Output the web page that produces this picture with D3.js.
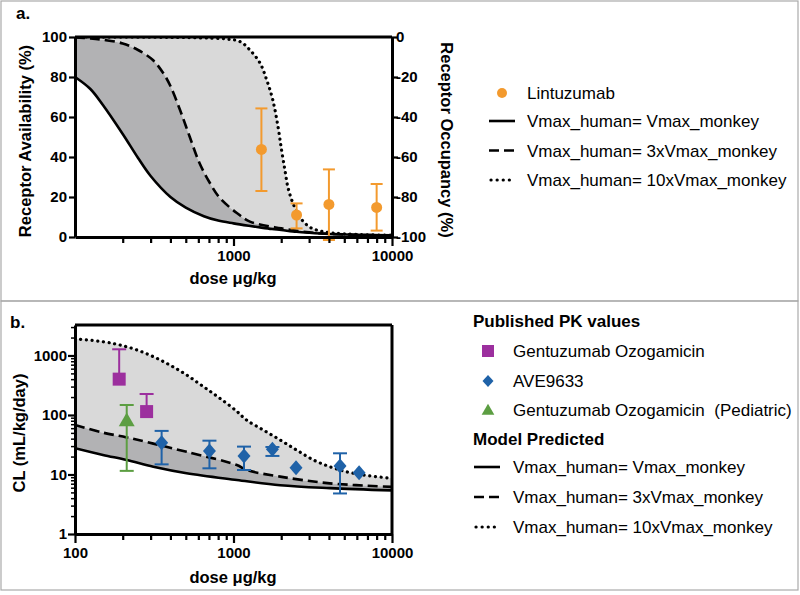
<!DOCTYPE html>
<html><head><meta charset="utf-8">
<script src="https://cdn.jsdelivr.net/npm/d3@7/dist/d3.min.js"></script>
<style>body{margin:0;background:#fff}svg{display:block;font-family:"Liberation Sans",Arial,sans-serif}</style>
</head><body><svg id="c" width="800" height="595"></svg>
<script>
// ---------- Panel a data ----------
const doseA_solid = [100,125,150,200,250,300,400,500,650,800,1000,1250,1500,1750,2000,2500,3000,4000,6000,10000];
const ra_solid    = [80,74,66,51.5,39.5,30.5,20,14.7,10.4,8.2,6.8,5.6,4.7,4.0,3.5,2.6,2.1,1.5,1.1,0.8];
const doseA_dash  = [100,125,150,200,250,310,360,400,460,530,610,710,820,1050,1270,2000,3000,4000,6000,10000];
const ra_dash     = [99.8,99.3,98.6,96.8,93.5,88.5,82,75.5,63.5,50,37,27,19.5,12,7.7,4.3,2.3,1.6,1.1,0.8];
const doseA_dot   = [100,300,600,900,1100,1270,1470,1620,1770,1910,2010,2110,2210,2370,2620,3020,3670,5200,10000];
const ra_dot      = [100,99.9,99.6,99,97.7,93.5,87,78.5,68.5,55,43.5,33.5,24.5,17,10,5,2.7,1.5,0.9];
const lintDose = [1500,2500,4000,8000];
const lintVal  = [43.8,11,16.3,14.8];
const lintLo   = [23,4.3,-1.5,3.2];
const lintHi   = [64.3,16.8,33.8,26.5];
const yTicksA  = [0,20,40,60,80,100];
const yTicksA2 = ["0","-20","-40","-60","-80","-100"];
const xTicksA  = [1000,10000];

// ---------- Panel b data ----------
const doseB_solid = [100,150,212,312,506,1050,1970,4050,10000];
const cl_solid    = [27.6,21.3,17.5,13.5,10.5,8.1,6.6,5.9,5.4];
const doseB_dash  = [100,150,212,312,506,1050,1210,1970,4050,10000];
const cl_dash     = [68,50.5,42,33,24,14.4,11.9,9.2,7.1,6.2];
const doseB_dot   = [100,151,192,245,312,397,506,645,822,1050,1210,1540,1970,2500,3200,4050,5170,6600,10000];
const cl_dot      = [1900,1700,1500,1240,955,690,470,300,190,115,82,56,38,25.8,17.5,13.5,11.1,9.8,8.6];
const gemDose = [190,283];
const gemVal  = [400,114];
const gemHi   = [1270,225];
const pedDose = [212];
const pedVal  = [77];
const pedLo   = [11.5];
const pedHi   = [147];
const aveDose = [352,705,1165,1760,2480,4700,6200];
const aveVal  = [34,24.8,20.5,26.5,13,13.9,10.7];
const aveLo   = [14.8,12.7,11.9,20.5,null,4.8,null];
const aveHi   = [54,37,29.4,29,null,22.7,null];
const xTicksB = [100,1000,10000];
const yTicksB = [1,10,100,1000];

const ORANGE="#f39a2e", PURPLE="#9c2f9e", BLUE="#1f62a8", GREEN="#5c9e42";
const LIGHT="#d9d9d9", DARK="#b2b2b4";
const FT=15, FL=17, FG=16.5;

const svg = d3.select("#c");
svg.append("rect").attr("x",1).attr("y",1).attr("width",797).attr("height",300).attr("fill","none").attr("stroke","#aaa").attr("stroke-width",1.2);
svg.append("rect").attr("x",1).attr("y",301).attr("width",797).attr("height",289).attr("fill","none").attr("stroke","#aaa").attr("stroke-width",1.2);

const L=75, R=392;
function zipc(ds, vs){ return ds.map((d,i)=>[d,vs[i]]); }
function bandPath(top, bottom, line){
  const p1 = line(top);
  const p2 = line(bottom.slice().reverse());
  return p1 + "L" + p2.slice(1) + "Z";
}
const curve = d3.curveCatmullRom.alpha(0.5);
const DASH="10,5", DOT="0.1,5.6";
function drawCurves(g, line, s, d, t){
  g.append("path").attr("d", line(s)).attr("fill","none").attr("stroke","#000").attr("stroke-width",2.6);
  g.append("path").attr("d", line(d)).attr("fill","none").attr("stroke","#000").attr("stroke-width",2.6).attr("stroke-dasharray",DASH);
  g.append("path").attr("d", line(t)).attr("fill","none").attr("stroke","#000").attr("stroke-width",3.2).attr("stroke-dasharray",DOT).attr("stroke-linecap","round");
}
const styleAxis = g=>{
  g.select(".domain").attr("stroke-width",3);
  g.selectAll(".tick line").attr("stroke-width",2.2);
  g.selectAll("text").attr("font-size",FT).attr("font-weight","bold").attr("fill","#000").attr("font-family","'Liberation Sans',Arial,sans-serif");
};
const minorX = [100,200,300,400,500,600,700,800,900,1000,2000,3000,4000,5000,6000,7000,8000,9000,10000];

// ================= Panel a =================
const xa = d3.scaleLog().domain([100,10000]).range([L,R]);
const ya = d3.scaleLinear().domain([0,100]).range([237,37]);
const ya2 = d3.scaleLinear().domain([0,-100]).range([37,237]);
const ga = svg.append("g");
ga.append("defs").append("clipPath").attr("id","clipa").append("rect").attr("x",L).attr("y",37).attr("width",R-L).attr("height",200);

const lineA = d3.line().x(d=>xa(d[0])).y(d=>ya(d[1])).curve(curve);
const sA = zipc(doseA_solid, ra_solid), dA = zipc(doseA_dash, ra_dash), tA = zipc(doseA_dot, ra_dot);
const gca = ga.append("g").attr("clip-path","url(#clipa)");
gca.append("path").attr("d", bandPath(tA, dA, lineA)).attr("fill",LIGHT);
gca.append("path").attr("d", bandPath(dA, sA, lineA)).attr("fill",DARK);
drawCurves(gca, lineA, sA, dA, tA);

lintDose.forEach((d,i)=>{
  const x=xa(d);
  ga.append("line").attr("x1",x).attr("x2",x).attr("y1",ya(lintLo[i])).attr("y2",ya(lintHi[i])).attr("stroke",ORANGE).attr("stroke-width",2);
  [lintLo[i],lintHi[i]].forEach(v=>ga.append("line").attr("x1",x-6).attr("x2",x+6).attr("y1",ya(v)).attr("y2",ya(v)).attr("stroke",ORANGE).attr("stroke-width",2));
  ga.append("circle").attr("cx",x).attr("cy",ya(lintVal[i])).attr("r",5.5).attr("fill",ORANGE);
});

ga.append("line").attr("x1",L).attr("x2",R).attr("y1",37).attr("y2",37).attr("stroke","#000").attr("stroke-width",3);

const gxa = ga.append("g").attr("transform","translate(0,237)")
  .call(d3.axisBottom(xa).tickValues(minorX.filter(d=>d>100)).tickSize(6).tickSizeOuter(0).tickFormat(d=> xTicksA.includes(d)? d3.format("d")(d):""))
  .call(styleAxis);
gxa.selectAll(".tick").filter(d=>xTicksA.includes(d)).select("line").attr("y2",9);
gxa.selectAll("text").attr("y",13).attr("dy","0.72em");

ga.append("g").attr("transform",`translate(${L},0)`).call(d3.axisLeft(ya).tickValues(yTicksA).tickSize(6).tickSizeOuter(0).tickPadding(2)).call(styleAxis);
const gya2 = ga.append("g").attr("transform",`translate(${R},0)`).call(d3.axisRight(ya2).tickValues(yTicksA.map(v=>-v)).tickSize(6).tickSizeOuter(0).tickFormat((d,i)=>yTicksA2[i])).call(styleAxis);
gya2.selectAll("text").attr("x",4);

ga.append("text").attr("transform",`translate(31,141) rotate(-90)`).attr("text-anchor","middle").attr("font-size",FG).attr("font-weight","bold").text("Receptor Availability (%)");
ga.append("text").attr("transform",`translate(441,140) rotate(90)`).attr("text-anchor","middle").attr("font-size",FG).attr("font-weight","bold").text("Receptor Occupancy (%)");
ga.append("text").attr("x",233).attr("y",284).attr("text-anchor","middle").attr("font-size",FG).attr("font-weight","bold").text("dose μg/kg");
ga.append("text").attr("x",16).attr("y",19).attr("font-size",17).attr("font-weight","bold").text("a.");

const lgA = ga.append("g").attr("font-size",FL);
lgA.append("circle").attr("cx",502).attr("cy",93).attr("r",5).attr("fill",ORANGE);
lgA.append("text").attr("x",527).attr("y",99).text("Lintuzumab");
const lgLines = [["none","Vmax_human= Vmax_monkey"],[DASH,"Vmax_human= 3xVmax_monkey"],[DOT,"Vmax_human= 10xVmax_monkey"]];
function legLine(g, x1, x2, y, i){
  g.append("line").attr("x1",x1).attr("x2",x2).attr("y1",y).attr("y2",y).attr("stroke","#000")
   .attr("stroke-width",i===2?3.2:2.6).attr("stroke-dasharray",i===0?null:(i===1?"10,5":"0.1,6")).attr("stroke-linecap",i===2?"round":"butt");
}
lgLines.forEach((l,i)=>{
  const y = 121 + i*29.5;
  legLine(lgA, i===2?491:489, 515, y, i);
  lgA.append("text").attr("x",527).attr("y",y+6).text(l[1]);
});

// ================= Panel b =================
const xb = d3.scaleLog().domain([100,10000]).range([L,R]);
const yb = d3.scaleLog().domain([1,3250]).range([534,325]);
const gb = svg.append("g");
gb.append("defs").append("clipPath").attr("id","clipb").append("rect").attr("x",L).attr("y",325).attr("width",R-L).attr("height",209);
const lineB = d3.line().x(d=>xb(d[0])).y(d=>yb(d[1])).curve(curve);
const sB = zipc(doseB_solid, cl_solid), dB = zipc(doseB_dash, cl_dash), tB = zipc(doseB_dot, cl_dot);
const gcb = gb.append("g").attr("clip-path","url(#clipb)");
gcb.append("path").attr("d", bandPath(tB, dB, lineB)).attr("fill",LIGHT);
gcb.append("path").attr("d", bandPath(dB, sB, lineB)).attr("fill",DARK);
drawCurves(gcb, lineB, sB, dB, tB);

function errBar(g, x, lo, hi, col){
  g.append("line").attr("x1",x).attr("x2",x).attr("y1",yb(lo)).attr("y2",yb(hi)).attr("stroke",col).attr("stroke-width",2);
  [lo,hi].forEach(v=> g.append("line").attr("x1",x-7).attr("x2",x+7).attr("y1",yb(v)).attr("y2",yb(v)).attr("stroke",col).attr("stroke-width",2));
}
gemDose.forEach((d,i)=>{
  const x=xb(d), y=yb(gemVal[i]);
  gb.append("line").attr("x1",x).attr("x2",x).attr("y1",y).attr("y2",yb(gemHi[i])).attr("stroke",PURPLE).attr("stroke-width",2);
  gb.append("line").attr("x1",x-7).attr("x2",x+7).attr("y1",yb(gemHi[i])).attr("y2",yb(gemHi[i])).attr("stroke",PURPLE).attr("stroke-width",2);
  gb.append("rect").attr("x",x-6.5).attr("y",y-6.5).attr("width",13).attr("height",13).attr("fill",PURPLE);
});
pedDose.forEach((d,i)=>{
  const x=xb(d), y=yb(pedVal[i]);
  errBar(gb, x, pedLo[i], pedHi[i], GREEN);
  gb.append("path").attr("d",d3.symbol(d3.symbolTriangle,110)()).attr("transform",`translate(${x},${y})`).attr("fill",GREEN);
});
aveDose.forEach((d,i)=>{
  const x=xb(d), y=yb(aveVal[i]);
  if(aveLo[i]!=null) errBar(gb, x, aveLo[i], aveHi[i], BLUE);
  gb.append("path").attr("d","M0,-7.5L6.5,0L0,7.5L-6.5,0Z").attr("transform",`translate(${x},${y})`).attr("fill",BLUE);
});

gb.append("line").attr("x1",L).attr("x2",R).attr("y1",325).attr("y2",325).attr("stroke","#000").attr("stroke-width",3);
gb.append("line").attr("x1",R).attr("x2",R).attr("y1",325).attr("y2",534).attr("stroke","#000").attr("stroke-width",3);

const gxb = gb.append("g").attr("transform","translate(0,534)")
  .call(d3.axisBottom(xb).tickValues(minorX).tickSize(6).tickSizeOuter(0).tickFormat(d=> xTicksB.includes(d)? d3.format("d")(d):""))
  .call(styleAxis);
gxb.selectAll(".tick").filter(d=>xTicksB.includes(d)).select("line").attr("y2",9);
gxb.selectAll("text").attr("y",13).attr("dy","0.72em");

const minorY=[];
for(let e=0;e<4;e++) for(let k=1;k<10;k++){ const v=k*Math.pow(10,e); if(v<=3250) minorY.push(v); }
const gyb = gb.append("g").attr("transform",`translate(${L},0)`)
  .call(d3.axisLeft(yb).tickValues(minorY).tickSize(4).tickSizeOuter(0).tickPadding(4).tickFormat(d=> yTicksB.includes(d)? d3.format("d")(d):""))
  .call(styleAxis);
gyb.selectAll(".tick").filter(d=>yTicksB.includes(d)).select("line").attr("x2",-7);
gyb.selectAll(".tick").filter(d=>!yTicksB.includes(d)).select("line").attr("stroke-width",1.5);

gb.append("text").attr("transform",`translate(25,433) rotate(-90)`).attr("text-anchor","middle").attr("font-size",FG).attr("font-weight","bold").text("CL (mL/kg/day)");
gb.append("text").attr("x",233).attr("y",583).attr("text-anchor","middle").attr("font-size",FG).attr("font-weight","bold").text("dose μg/kg");
gb.append("text").attr("x",10).attr("y",328).attr("font-size",17).attr("font-weight","bold").text("b.");

const lgB = gb.append("g").attr("font-size",FL);
lgB.append("text").attr("x",473).attr("y",327).attr("font-weight","bold").text("Published PK values");
lgB.append("rect").attr("x",482).attr("y",345).attr("width",12).attr("height",12).attr("fill",PURPLE);
lgB.append("text").attr("x",513).attr("y",357).text("Gentuzumab Ozogamicin");
lgB.append("path").attr("d","M0,-6L5.5,0L0,6L-5.5,0Z").attr("transform","translate(488,381)").attr("fill",BLUE);
lgB.append("text").attr("x",513).attr("y",387).text("AVE9633");
lgB.append("path").attr("d",d3.symbol(d3.symbolTriangle,70)()).attr("transform","translate(488,411)").attr("fill",GREEN);
lgB.append("text").attr("x",513).attr("y",416).text("Gentuzumab Ozogamicin  (Pediatric)").attr("style","white-space:pre");
lgB.append("text").attr("x",473).attr("y",445).attr("font-weight","bold").text("Model Predicted");
lgLines.forEach((l,i)=>{
  const y = 467 + i*30;
  legLine(lgB, i===2?476:474, 500, y, i);
  lgB.append("text").attr("x",513).attr("y",y+6).text(l[1]);
});
</script></body></html>
